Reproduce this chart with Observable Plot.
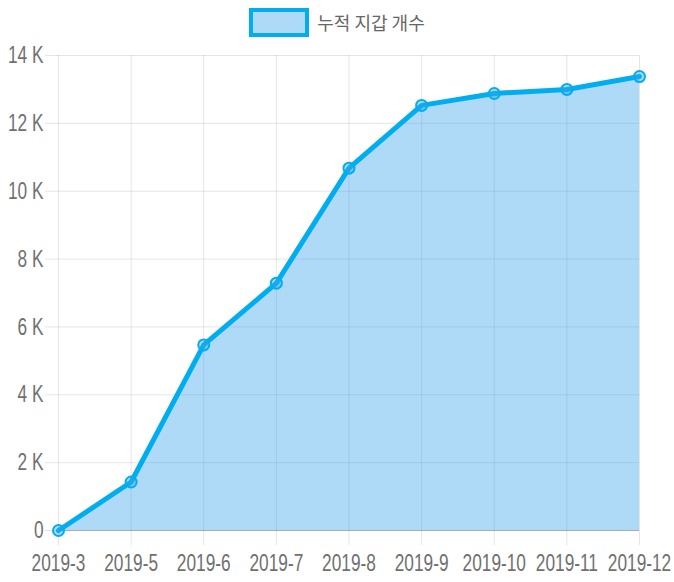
<!DOCTYPE html>
<html>
<head>
<meta charset="utf-8">
<script src="https://cdn.jsdelivr.net/npm/d3@7"></script>
<script src="https://cdn.jsdelivr.net/npm/@observablehq/plot@0.6"></script>
<style>
  html, body { margin: 0; padding: 0; background: #fff; }
  #legend { height: 34px; padding-top: 5px; display: flex; align-items: center; justify-content: center; font-family: "Noto Sans CJK KR", "Noto Sans", sans-serif; font-size: 18px; color: #666; }
  #legend .sw { width: 52px; height: 21px; border: 4px solid #00aeef; background: rgba(54,162,235,0.4); margin-right: 8px; }
  svg text { font-family: "Liberation Sans", Arial, sans-serif; }
</style>
</head>
<body>
<div id="legend"><div class="sw"></div><span>누적 지갑 개수</span></div>
<div id="chart"></div>
<script>
const months = ["2019-3","2019-5","2019-6","2019-7","2019-8","2019-9","2019-10","2019-11","2019-12"];
const wallets = [0, 1430, 5470, 7290, 10680, 12530, 12880, 13000, 13380];
const yTicks = [0, 2000, 4000, 6000, 8000, 10000, 12000, 14000];
const seriesName = "누적 지갑 개수";

const data = months.map((m, i) => ({month: m, value: wallets[i]}));

const chart = Plot.plot({
  width: 674,
  height: 543,
  marginTop: 16,
  marginBottom: 52,
  marginLeft: 58,
  marginRight: 35,
  style: {fontSize: "24px", color: "#666", background: "#fff", overflow: "visible"},
  x: {type: "point", domain: months, padding: 0, round: false, label: null},
  y: {domain: [0, 14000], label: null},
  marks: [
    Plot.gridY(yTicks, {stroke: "#000", strokeOpacity: 0.1}),
    Plot.gridX(months, {stroke: "#000", strokeOpacity: 0.1}),
    Plot.axisY(yTicks, {tickSize: 13, tickPadding: 2, stroke: "#000", strokeOpacity: 0.1, fill: "#707070", label: null, fontSize: 24,
      tickFormat: d => d === 0 ? "0" : (d / 1000) + " K"}),
    Plot.axisX(months, {tickSize: 15, tickPadding: 8, stroke: "#000", strokeOpacity: 0.1, fill: "#707070", label: null, fontSize: 24}),
    Plot.areaY(data, {x: "month", y: "value", fill: "rgb(54,162,235)", fillOpacity: 0.4}),
    Plot.ruleY([0], {stroke: "#000", strokeOpacity: 0.25}),
    Plot.lineY(data, {x: "month", y: "value", stroke: "#00aeef", strokeWidth: 5}),
    Plot.dot(data, {x: "month", y: "value", r: 5.5, fill: "rgb(54,162,235)", fillOpacity: 0.4, stroke: "#00aeef", strokeWidth: 2})
  ]
});
// condense tick labels horizontally, like the reference's narrow face
chart.querySelectorAll("g[aria-label$='tick label'] text").forEach(t => {
  const tr = t.getAttribute("transform") || "";
  t.setAttribute("transform", tr + " scale(0.72,1)");
});
document.getElementById("chart").appendChild(chart);
</script>
</body>
</html>
